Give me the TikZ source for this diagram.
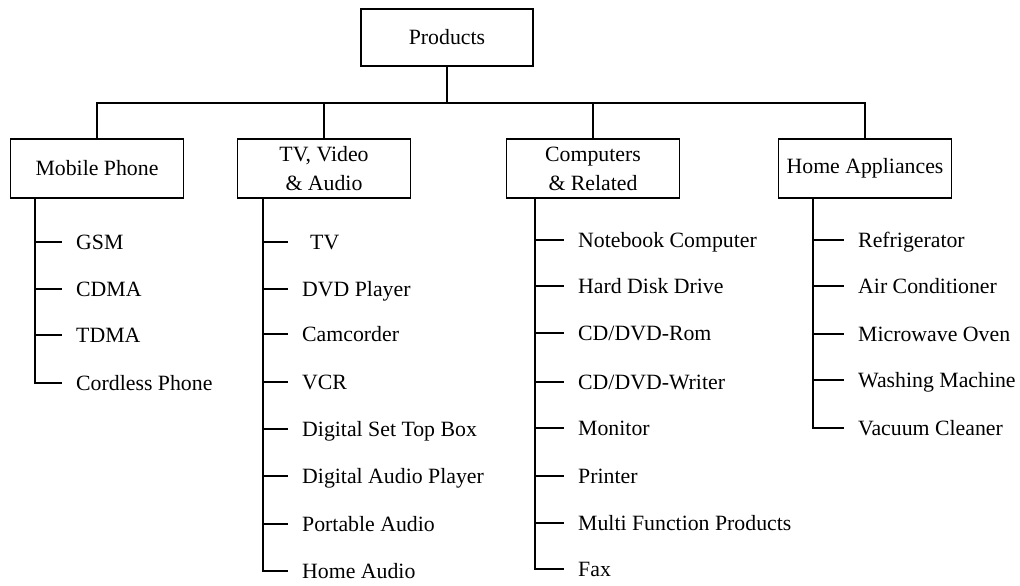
\documentclass[tikz,border=0pt]{standalone}
\usepackage{fontspec}
\setmainfont{Liberation Serif}
\tikzset{
  box/.style={draw, line width=1.6pt, minimum width=173pt, minimum height=59pt, align=center, inner sep=2pt},
  item/.style={anchor=west, inner sep=0pt, text height=15pt, text depth=0pt},
  link/.style={line width=1.6pt}
}
\begin{document}
\begin{tikzpicture}[x=1pt, y=-1pt, font=\fontsize{21.8}{29}\selectfont]
  \useasboundingbox (0,0) rectangle (1020,586);

  % Nodes
  \node[box, minimum width=172pt, minimum height=57pt] (prod) at (447,37.5) {Products};
  \node[box] (mob) at (97,168.5) {Mobile Phone};
  \node[box] (tv) at (324,168.5) {TV, Video\\ \& Audio};
  \node[box] (comp) at (593,168.5) {Computers\\ \& Related};
  \node[box] (home) at (865,168.5) {Home Appliances};

  \coordinate (bar) at (447,103);
  \coordinate (mobT) at (35,198);
  \coordinate (tvT) at (263,198);
  \coordinate (compT) at (535,198);
  \coordinate (homeT) at (813,198);

  \node[item] (m1) at (76,242) {GSM};
  \node[item] (m2) at (76,289) {CDMA};
  \node[item] (m3) at (76,335) {TDMA};
  \node[item] (m4) at (76,383) {Cordless Phone};

  \node[item] (t1) at (310,242) {TV};
  \node[item] (t2) at (302,289) {DVD Player};
  \node[item] (t3) at (302,334) {Camcorder};
  \node[item] (t4) at (302,382) {VCR};
  \node[item] (t5) at (302,429) {Digital Set Top Box};
  \node[item] (t6) at (302,476) {Digital Audio Player};
  \node[item] (t7) at (302,524) {Portable Audio};
  \node[item] (t8) at (302,571) {Home Audio};

  \node[item] (c1) at (578,240) {Notebook Computer};
  \node[item] (c2) at (578,286) {Hard Disk Drive};
  \node[item] (c3) at (578,333) {CD/DVD-Rom};
  \node[item] (c4) at (578,382) {CD/DVD-Writer};
  \node[item] (c5) at (578,428) {Monitor};
  \node[item] (c6) at (578,476) {Printer};
  \node[item] (c7) at (578,523) {Multi Function Products};
  \node[item] (c8) at (578,569) {Fax};

  \node[item] (h1) at (858,240) {Refrigerator};
  \node[item] (h2) at (858,286) {Air Conditioner};
  \node[item] (h3) at (858,334) {Microwave Oven};
  \node[item] (h4) at (858,380) {Washing Machine};
  \node[item] (h5) at (858,428) {Vacuum Cleaner};

  % Edges
  \draw[link] (prod.south) -- (bar);
  \draw[link] (mob.north) -- (mob.north |- bar) -- (home.north |- bar) -- (home.north);
  \draw[link] (tv.north |- bar) -- (tv.north);
  \draw[link] (comp.north |- bar) -- (comp.north);

  \draw[link] (mobT) -- (mobT |- m4.west) -- ([xshift=-14pt]m4.west);
  \draw[link] (mobT |- m1.west) -- ([xshift=-14pt]m1.west);
  \draw[link] (mobT |- m2.west) -- ([xshift=-14pt]m2.west);
  \draw[link] (mobT |- m3.west) -- ([xshift=-14pt]m3.west);

  \draw[link] (tvT) -- (tvT |- t8.west) -- ([xshift=-14pt]t8.west);
  \draw[link] (tvT |- t1.west) -- ([xshift=-22pt]t1.west);
  \draw[link] (tvT |- t2.west) -- ([xshift=-14pt]t2.west);
  \draw[link] (tvT |- t3.west) -- ([xshift=-14pt]t3.west);
  \draw[link] (tvT |- t4.west) -- ([xshift=-14pt]t4.west);
  \draw[link] (tvT |- t5.west) -- ([xshift=-14pt]t5.west);
  \draw[link] (tvT |- t6.west) -- ([xshift=-14pt]t6.west);
  \draw[link] (tvT |- t7.west) -- ([xshift=-14pt]t7.west);

  \draw[link] (compT) -- (compT |- c8.west) -- ([xshift=-14pt]c8.west);
  \draw[link] (compT |- c1.west) -- ([xshift=-14pt]c1.west);
  \draw[link] (compT |- c2.west) -- ([xshift=-14pt]c2.west);
  \draw[link] (compT |- c3.west) -- ([xshift=-14pt]c3.west);
  \draw[link] (compT |- c4.west) -- ([xshift=-14pt]c4.west);
  \draw[link] (compT |- c5.west) -- ([xshift=-14pt]c5.west);
  \draw[link] (compT |- c6.west) -- ([xshift=-14pt]c6.west);
  \draw[link] (compT |- c7.west) -- ([xshift=-14pt]c7.west);

  \draw[link] (homeT) -- (homeT |- h5.west) -- ([xshift=-14pt]h5.west);
  \draw[link] (homeT |- h1.west) -- ([xshift=-14pt]h1.west);
  \draw[link] (homeT |- h2.west) -- ([xshift=-14pt]h2.west);
  \draw[link] (homeT |- h3.west) -- ([xshift=-14pt]h3.west);
  \draw[link] (homeT |- h4.west) -- ([xshift=-14pt]h4.west);
\end{tikzpicture}
\end{document}
